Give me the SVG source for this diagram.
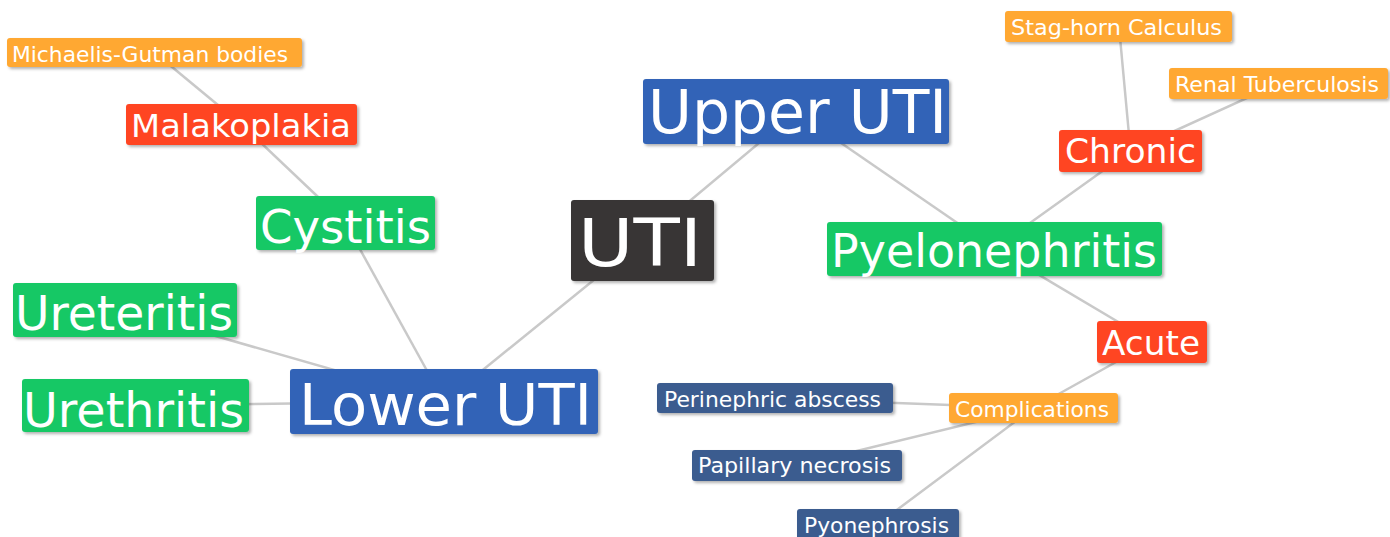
<svg xmlns="http://www.w3.org/2000/svg" width="1390" height="537" viewBox="0 0 1390 537">
<defs>
<filter id="sh" x="-10%" y="-20%" width="130%" height="160%">
<feDropShadow dx="2" dy="2" stdDeviation="1.5" flood-color="#000" flood-opacity="0.3"/>
</filter>
<style>
.n rect{filter:url(#sh)}
.n text{fill:#fff;font-family:"DejaVu Sans",Verdana,sans-serif}
.or rect{fill:#FFA832}
.rd rect{fill:#FF4422}
.gr rect{fill:#19C865}
.bl rect{fill:#3064B7}
.db rect{fill:#3B5B8F}
.bk rect{fill:#383434}
#edges line{stroke:#C9C9C9;stroke-width:2.5}
</style>
</defs>
<rect width="1390" height="537" fill="#fff"/>
<g id="edges">
<line x1="154.5" y1="52.5" x2="241.5" y2="124.5"/>
<line x1="241.5" y1="124.5" x2="345.5" y2="223"/>
<line x1="345.5" y1="223" x2="444" y2="401.5"/>
<line x1="125" y1="310" x2="444" y2="401.5"/>
<line x1="135.5" y1="405.5" x2="444" y2="401.5"/>
<line x1="642.5" y1="240.5" x2="444" y2="401.5"/>
<line x1="642.5" y1="240.5" x2="796" y2="112"/>
<line x1="796" y1="112" x2="994.5" y2="248.5"/>
<line x1="994.5" y1="248.5" x2="1130.5" y2="151"/>
<line x1="1130.5" y1="151" x2="1119" y2="26.5"/>
<line x1="1130.5" y1="151" x2="1279" y2="83.5"/>
<line x1="994.5" y1="248.5" x2="1152" y2="342"/>
<line x1="1152" y1="342" x2="1033.5" y2="408"/>
<line x1="1033.5" y1="408" x2="775" y2="398.5"/>
<line x1="1033.5" y1="408" x2="797" y2="465.5"/>
<line x1="1033.5" y1="408" x2="878" y2="524"/>
</g>
<g id="n-michaelis" class="n or"><rect x="7" y="38" width="295" height="29" rx="3"/><text x="12" y="62" font-size="21" textLength="276" lengthAdjust="spacingAndGlyphs">Michaelis-Gutman bodies</text></g>
<g id="n-malakoplakia" class="n rd"><rect x="126" y="104" width="231" height="41" rx="3"/><text x="131" y="137" font-size="32" textLength="220" lengthAdjust="spacingAndGlyphs">Malakoplakia</text></g>
<g id="n-cystitis" class="n gr"><rect x="256" y="196" width="179" height="54" rx="3"/><text x="260" y="243" font-size="47" textLength="171" lengthAdjust="spacingAndGlyphs">Cystitis</text></g>
<g id="n-ureteritis" class="n gr"><rect x="13" y="283" width="224" height="54" rx="3"/><text x="15" y="330" font-size="48" textLength="218" lengthAdjust="spacingAndGlyphs">Ureteritis</text></g>
<g id="n-urethritis" class="n gr"><rect x="22" y="379" width="227" height="53" rx="3"/><text x="23" y="427" font-size="48" textLength="221" lengthAdjust="spacingAndGlyphs">Urethritis</text></g>
<g id="n-lower" class="n bl"><rect x="290" y="369" width="308" height="65" rx="3"/><text x="299" y="425" font-size="57" textLength="293" lengthAdjust="spacingAndGlyphs">Lower UTI</text></g>
<g id="n-uti" class="n bk"><rect x="571" y="200" width="143" height="81" rx="3"/><text x="578" y="266" font-size="66" textLength="124" lengthAdjust="spacingAndGlyphs">UTI</text></g>
<g id="n-upper" class="n bl"><rect x="643" y="79" width="306" height="65" rx="3"/><text x="648" y="133" font-size="60" textLength="299" lengthAdjust="spacingAndGlyphs">Upper UTI</text></g>
<g id="n-pyelo" class="n gr"><rect x="827" y="222" width="335" height="54" rx="3"/><text x="831" y="267" font-size="46" textLength="326" lengthAdjust="spacingAndGlyphs">Pyelonephritis</text></g>
<g id="n-chronic" class="n rd"><rect x="1059" y="130" width="143" height="42" rx="3"/><text x="1065" y="163" font-size="33" textLength="131" lengthAdjust="spacingAndGlyphs">Chronic</text></g>
<g id="n-staghorn" class="n or"><rect x="1005" y="11" width="227" height="31" rx="3"/><text x="1011" y="35" font-size="21" textLength="211" lengthAdjust="spacingAndGlyphs">Stag-horn Calculus</text></g>
<g id="n-renal" class="n or"><rect x="1169" y="68" width="219" height="31" rx="3"/><text x="1175" y="92" font-size="21" textLength="204" lengthAdjust="spacingAndGlyphs">Renal Tuberculosis</text></g>
<g id="n-acute" class="n rd"><rect x="1097" y="321" width="110" height="42" rx="3"/><text x="1102" y="355" font-size="33" textLength="98" lengthAdjust="spacingAndGlyphs">Acute</text></g>
<g id="n-complications" class="n or"><rect x="949" y="393" width="169" height="30" rx="3"/><text x="955" y="417" font-size="21" textLength="154" lengthAdjust="spacingAndGlyphs">Complications</text></g>
<g id="n-perinephric" class="n db"><rect x="657" y="383" width="236" height="30" rx="3"/><text x="664" y="407" font-size="21" textLength="217" lengthAdjust="spacingAndGlyphs">Perinephric abscess</text></g>
<g id="n-papillary" class="n db"><rect x="692" y="450" width="210" height="31" rx="3"/><text x="698" y="473" font-size="21" textLength="193" lengthAdjust="spacingAndGlyphs">Papillary necrosis</text></g>
<g id="n-pyonephrosis" class="n db"><rect x="797" y="509" width="162" height="31" rx="3"/><text x="804" y="533" font-size="21" textLength="145" lengthAdjust="spacingAndGlyphs">Pyonephrosis</text></g>
</svg>
